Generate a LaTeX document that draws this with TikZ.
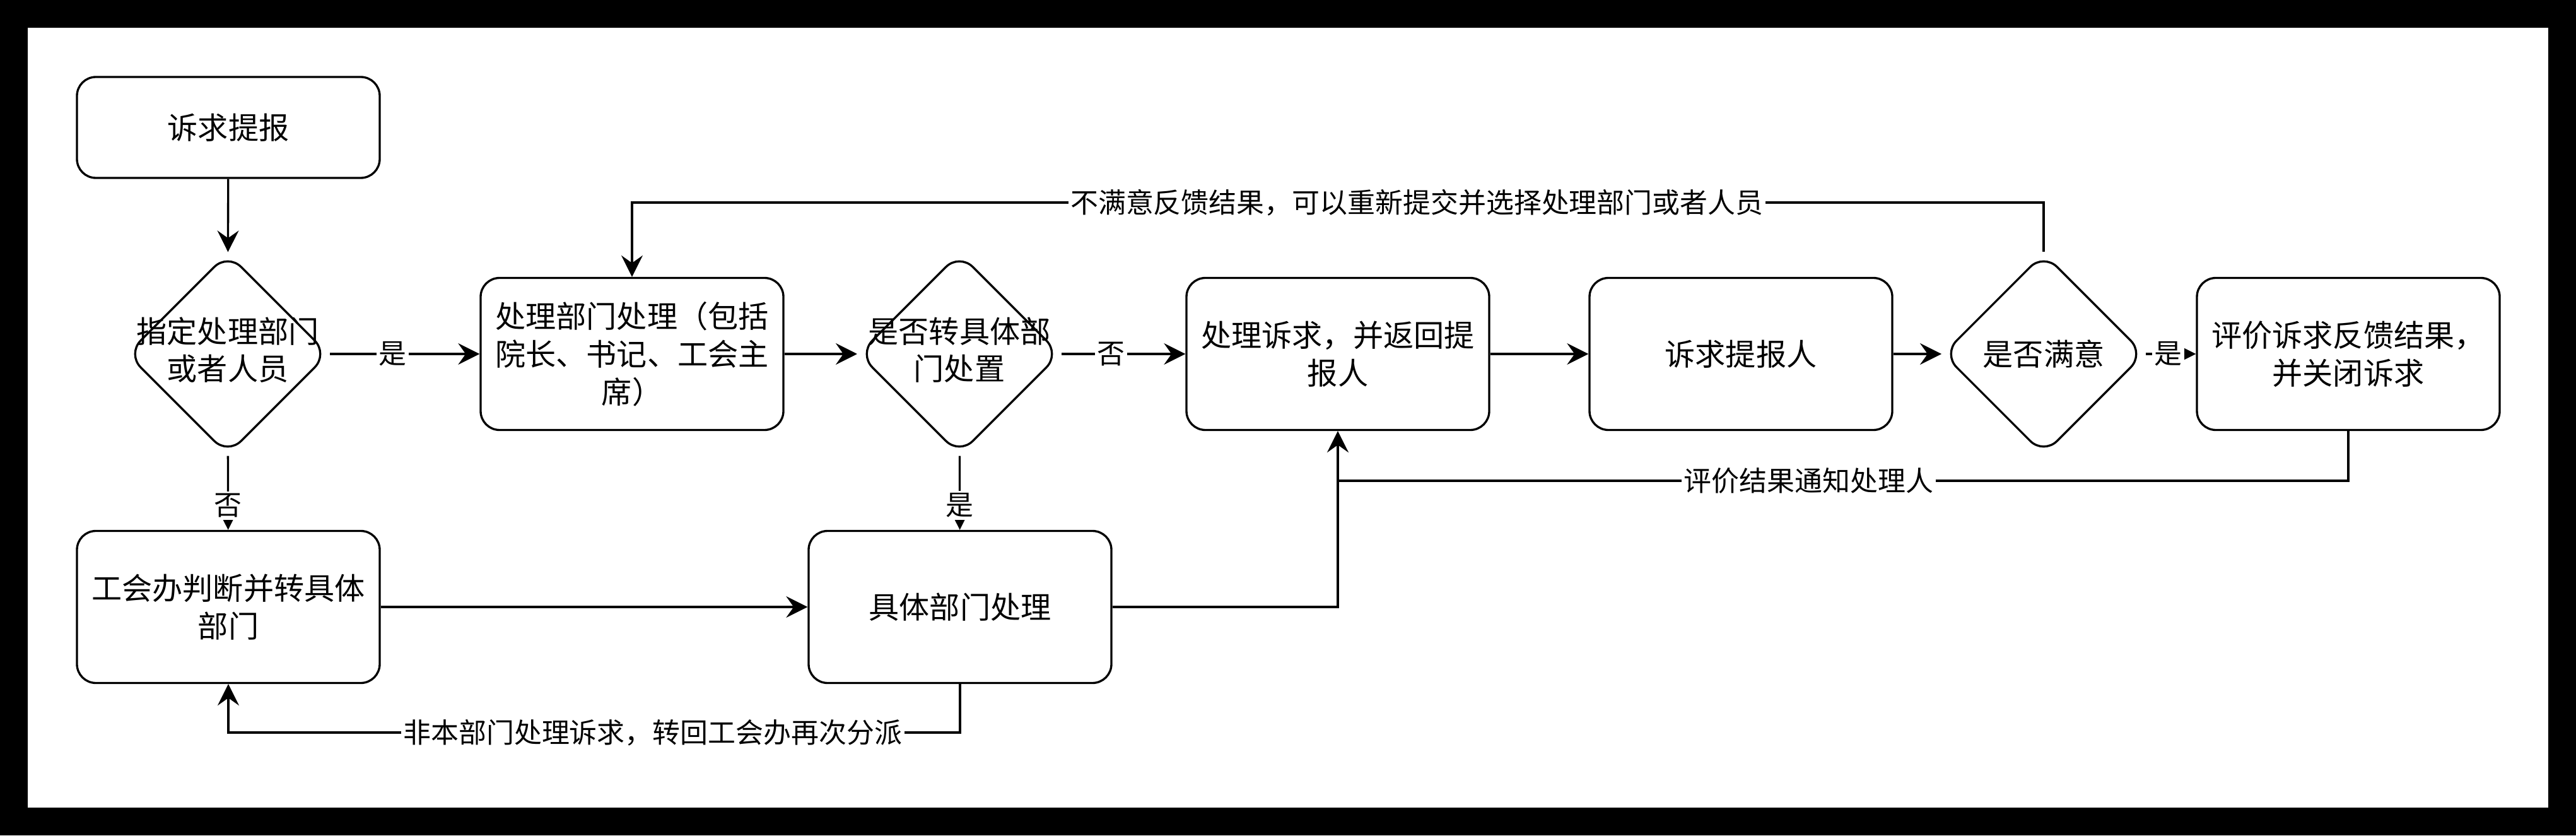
\documentclass[tikz,border=0pt]{standalone}
\usepackage{fontspec}
\setmainfont{Noto Sans CJK SC}
\usepackage{tikz}
\usetikzlibrary{shapes.geometric, arrows.meta}

\begin{document}
\begin{tikzpicture}[
    box/.style={draw, line width=0.95pt, rounded corners=0.3cm, minimum width=4.8cm, minimum height=2.41cm, inner sep=0pt, align=center, font=\fontsize{13.7}{17}\selectfont},
    decision/.style={draw, diamond, line width=0.95pt, rounded corners=0.3cm, minimum width=3.2cm, minimum height=3.2cm, inner sep=0pt, outer sep=0.02cm, font=\fontsize{13.7}{17}\selectfont},
    flow/.style={line width=0.95pt, -{Stealth[length=3.4mm, width=3.4mm, inset=1.2mm]}},
    link/.style={line width=0.95pt},
    tag/.style={fill=white, inner sep=1pt, font=\fontsize{12.5}{15}\selectfont}
]
            % Draw the black frame round the page
            \fill[black] (0,0) rectangle (40.84,13.24);
            \fill[white] (0.44,0.44) rectangle (40.40,12.80);

            % Steps of the main line
            \node[box, minimum height=1.6cm] (report) at (3.62,11.22) {诉求提报};
            \node[decision] (assign) at (3.61,7.63) {\makebox[0pt]{\begin{tabular}{@{}c@{}}指定处理部门\\或者人员\end{tabular}}};
            \node[box] (dept) at (10.02,7.63) {处理部门处理（包括\\院长、书记、工会主\\席）};
            \node[decision] (transfer) at (15.21,7.63) {\makebox[0pt]{\begin{tabular}{@{}c@{}}是否转具体部\\门处置\end{tabular}}};
            \node[box] (handle) at (21.21,7.63) {处理诉求，并返回提\\报人};
            \node[box] (reporter) at (27.60,7.63) {诉求提报人};
            \node[decision] (satisfied) at (32.40,7.63) {\makebox[0pt]{是否满意}};
            \node[box] (evaluate) at (37.23,7.63) {评价诉求反馈结果，\\并关闭诉求};

            % Steps of the lower line
            \node[box] (union) at (3.62,3.62) {工会办判断并转具体\\部门};
            \node[box] (specific) at (15.22,3.62) {具体部门处理};

            % Turning points of the loops
            \coordinate (retry) at (32.40,10.03);
            \coordinate (notify) at (21.21,5.62);
            \coordinate (redo) at (15.22,1.63);

            % Connect the steps
            \draw[flow] (report) -- (assign);
            \draw[flow] (assign) -- node[tag, pos=0.42] {是} (dept);
            \draw[flow] (assign) -- node[tag, pos=0.67] {否} (union);
            \draw[flow] (dept) -- (transfer);
            \draw[flow] (transfer) -- node[tag, pos=0.40] {否} (handle);
            \draw[flow] (transfer) -- node[tag, pos=0.67] {是} (specific);
            \draw[flow] (handle) -- (reporter);
            \draw[flow] (reporter) -- (satisfied);
            \draw[flow] (satisfied) -- node[tag, pos=0.45] {是} (evaluate);
            \draw[flow] (union) -- (specific);
            \draw[flow] (specific.east) -| (handle.south);

            % Loops back
            \draw[link] (evaluate.south) |- node[tag, pos=0.767] {评价结果通知处理人} (notify);
            \draw[flow] (satisfied.north) -- (retry) -| node[tag, pos=0.222] {不满意反馈结果，可以重新提交并选择处理部门或者人员} (dept.north);
            \draw[flow] (specific.south) -- (redo) -| node[tag, pos=0.21] {非本部门处理诉求，转回工会办再次分派} (union.south);
\end{tikzpicture}
\end{document}
